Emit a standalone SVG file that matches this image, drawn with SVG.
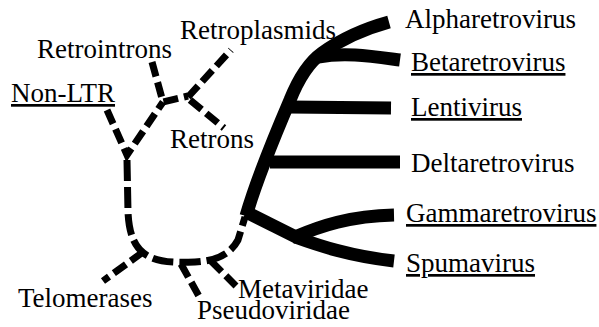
<svg xmlns="http://www.w3.org/2000/svg" width="599" height="327" viewBox="0 0 599 327">
<style>
text{font-family:"Liberation Serif","Times New Roman",serif;font-size:27px;fill:#000}
.u{text-decoration:underline}
.solid{fill:none;stroke:#000;stroke-width:13;stroke-linecap:butt;stroke-linejoin:round}
.dash{fill:none;stroke:#000;stroke-width:7;stroke-dasharray:15 6}
.dashm{fill:none;stroke:#000;stroke-width:7;stroke-dasharray:21 6}
</style>
<rect width="599" height="327" fill="#fff"/>
<g id="connectors">
<path class="solid" d="M246,216 C255,185 275,135 290,100 C298,80 308,63 322,53 C340,40 360,30 389,22"/>
<path class="solid" d="M318,57 C345,52 370,56 400,60"/>
<path class="solid" d="M289,107 L391,108"/>
<path class="solid" d="M270,162 L400,162"/>
<path class="solid" d="M246,212 L298,238"/>
<path class="solid" d="M295,237 C320,226 350,216 394,215"/>
<path class="solid" d="M295,237 C320,246 350,256 394,261"/>
<path class="dash" d="M107,110 L127,155 L163,102"/>
<path class="dash" d="M152,62 L163,102 L188,96"/>
<path class="dash" d="M188,97 L231,50"/>
<path class="dash" d="M190,100 L224,128"/>
<path class="dashm" d="M127,160 L128,212 C129,235 135,250 150,257 C160,262 175,263 195,262 C215,261 230,255 238,240 L245,217"/>
<path class="dash" d="M143,252 L103,281"/>
<path class="dash" d="M181,264 L200,298"/>
<path class="dash" d="M211,261 L236,286"/>
</g>
<g id="alpharetrovirus"><text x="405" y="28">Alpharetrovirus</text></g>
<g id="betaretrovirus"><text class="u" x="411" y="71">Betaretrovirus</text></g>
<g id="lentivirus"><text class="u" x="411" y="116">Lentivirus</text></g>
<g id="deltaretrovirus"><text x="411" y="172">Deltaretrovirus</text></g>
<g id="gammaretrovirus"><text class="u" x="406" y="222">Gammaretrovirus</text></g>
<g id="spumavirus"><text class="u" x="406" y="272">Spumavirus</text></g>
<g id="non-ltr"><text class="u" x="11" y="102">Non-LTR</text></g>
<g id="retrointrons"><text x="37" y="58">Retrointrons</text></g>
<g id="retroplasmids"><text x="180" y="39">Retroplasmids</text></g>
<g id="retrons"><text x="170" y="148">Retrons</text></g>
<g id="telomerases"><text x="18" y="307">Telomerases</text></g>
<g id="metaviridae"><text x="238" y="298">Metaviridae</text></g>
<g id="pseudoviridae"><text x="197" y="319">Pseudoviridae</text></g>
</svg>
